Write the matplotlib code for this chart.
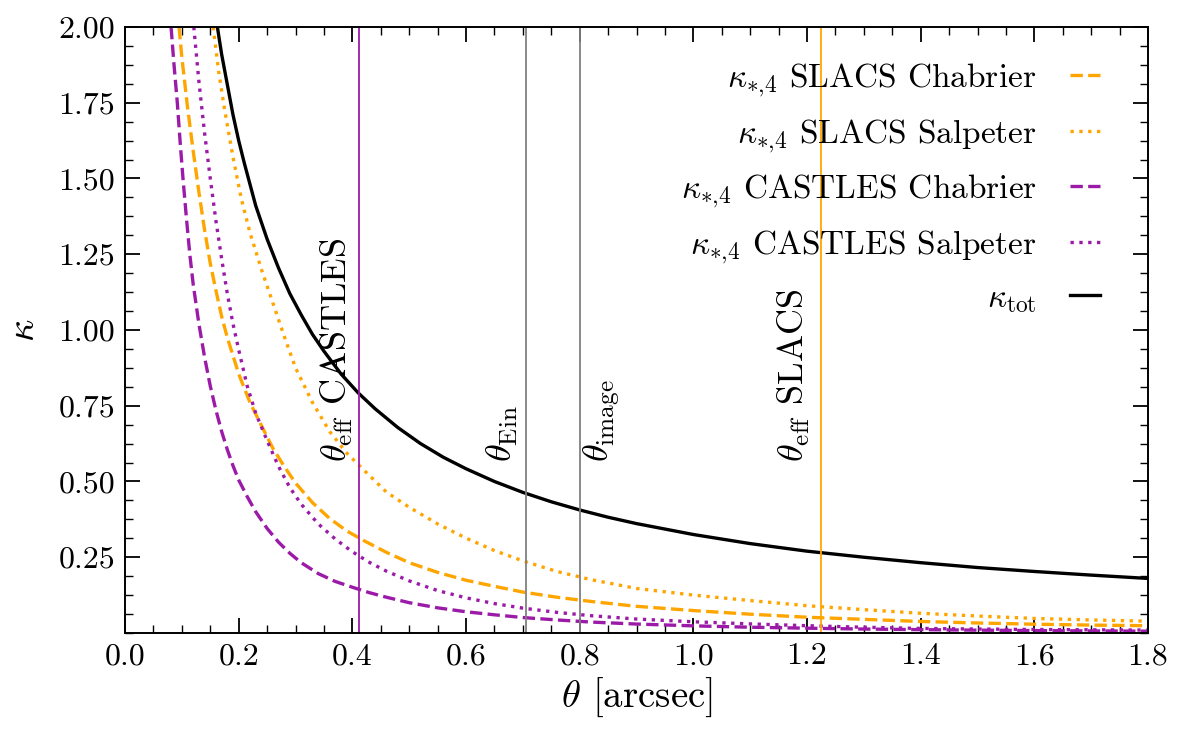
import matplotlib
matplotlib.use("Agg")
import matplotlib.pyplot as plt
from matplotlib.ticker import MultipleLocator, AutoMinorLocator, FormatStrFormatter

plt.rcParams['font.family'] = 'serif'
plt.rcParams['font.serif'] = ['cmr10']
plt.rcParams['mathtext.fontset'] = 'cm'
plt.rcParams['axes.formatter.use_mathtext'] = True

# --- values ---
# kappa_tot (black solid)
theta_tot = [0.16, 0.17, 0.18, 0.19, 0.20, 0.21, 0.22, 0.23, 0.24, 0.25, 0.27, 0.29, 0.31,
             0.33, 0.35, 0.38, 0.41, 0.44, 0.48, 0.52, 0.56, 0.60, 0.65, 0.70, 0.75, 0.80,
             0.85, 0.90, 1.0, 1.1, 1.2, 1.3, 1.4, 1.5, 1.6, 1.7, 1.8]
kappa_tot = [2.03, 1.91, 1.81, 1.71, 1.625, 1.55, 1.48, 1.41, 1.355, 1.30, 1.205, 1.12, 1.05,
             0.985, 0.93, 0.855, 0.793, 0.74, 0.678, 0.625, 0.58, 0.542, 0.50, 0.464, 0.433, 0.406,
             0.382, 0.361, 0.325, 0.295, 0.27, 0.25, 0.232, 0.216, 0.203, 0.191, 0.18]

# SLACS Salpeter (orange dotted)
theta_slacs_salp = [0.155, 0.165, 0.175, 0.19, 0.205, 0.22, 0.24, 0.26, 0.28, 0.30, 0.33,
                    0.36, 0.39, 0.42, 0.46, 0.50, 0.55, 0.60, 0.65, 0.70, 0.76, 0.82, 0.90,
                    1.0, 1.1, 1.2, 1.3, 1.4, 1.5, 1.6, 1.7, 1.8]
kappa_slacs_salp = [2.0, 1.85, 1.73, 1.57, 1.43, 1.32, 1.20, 1.09, 0.98, 0.875, 0.76,
                    0.665, 0.594, 0.538, 0.465, 0.415, 0.36, 0.313, 0.272, 0.238, 0.203, 0.176, 0.147,
                    0.125, 0.107, 0.090, 0.077, 0.065, 0.056, 0.048, 0.043, 0.039]

# SLACS Chabrier (orange dashed)
theta_slacs_chab = [0.095, 0.10, 0.11, 0.12, 0.13, 0.14, 0.15, 0.16, 0.17, 0.18, 0.19, 0.20,
                    0.22, 0.24, 0.26, 0.28, 0.30, 0.33, 0.36, 0.39, 0.42, 0.46, 0.50, 0.55,
                    0.60, 0.65, 0.70, 0.76, 0.82, 0.90, 1.0, 1.1, 1.2, 1.3, 1.4, 1.5, 1.6, 1.7, 1.8]
kappa_slacs_chab = [2.0, 1.9, 1.735, 1.59, 1.455, 1.33, 1.22, 1.13, 1.045, 0.975, 0.915, 0.855,
                    0.76, 0.685, 0.61, 0.55, 0.495, 0.43, 0.378, 0.337, 0.305, 0.266, 0.232, 0.20,
                    0.174, 0.154, 0.135, 0.118, 0.104, 0.088, 0.074, 0.062, 0.052, 0.045, 0.038,
                    0.033, 0.029, 0.026, 0.024]

# CASTLES Salpeter (purple dotted)
theta_cast_salp = [0.121, 0.13, 0.14, 0.15, 0.16, 0.17, 0.18, 0.19, 0.20, 0.215, 0.23, 0.25,
                   0.27, 0.29, 0.31, 0.34, 0.37, 0.40, 0.43, 0.46, 0.50, 0.55, 0.60, 0.65,
                   0.70, 0.76, 0.82, 0.90, 1.0, 1.1, 1.2, 1.3, 1.4, 1.5, 1.6, 1.7, 1.8]
kappa_cast_salp = [2.0, 1.82, 1.65, 1.5, 1.36, 1.235, 1.12, 1.02, 0.935, 0.815, 0.725, 0.635,
                   0.55, 0.48, 0.425, 0.36, 0.31, 0.268, 0.233, 0.204, 0.172, 0.14, 0.116, 0.097,
                   0.082, 0.068, 0.057, 0.046, 0.037, 0.030, 0.024, 0.019, 0.015, 0.013, 0.0115,
                   0.0105, 0.0095]

# CASTLES Chabrier (purple dashed)
theta_cast_chab = [0.081, 0.086, 0.092, 0.097, 0.102, 0.108, 0.114, 0.12, 0.13, 0.14, 0.15,
                   0.16, 0.17, 0.18, 0.19, 0.20, 0.215, 0.23, 0.25, 0.27, 0.29, 0.31, 0.34,
                   0.37, 0.40, 0.43, 0.46, 0.50, 0.55, 0.60, 0.65, 0.70, 0.76, 0.82, 0.90,
                   1.0, 1.1, 1.2, 1.3, 1.4, 1.5, 1.6, 1.7, 1.8]
kappa_cast_chab = [2.0, 1.88, 1.75, 1.62, 1.5, 1.37, 1.25, 1.15, 1.02, 0.91, 0.815,
                   0.735, 0.665, 0.605, 0.552, 0.505, 0.45, 0.40, 0.345, 0.30, 0.263, 0.232, 0.196,
                   0.17, 0.151, 0.133, 0.118, 0.100, 0.083, 0.070, 0.060, 0.051, 0.043, 0.036, 0.0295,
                   0.0235, 0.019, 0.0158, 0.013, 0.011, 0.0093, 0.008, 0.0068, 0.006]

# characteristic radii
theta_eff_castles = 0.412
theta_ein = 0.705
theta_image = 0.80
theta_eff_slacs = 1.224

orange = '#FFA500'
purple = '#9B1BA8'

fig = plt.figure(figsize=(11.85, 7.35), dpi=100)
ax = fig.add_axes([0.1055, 0.1388, 0.8633, 0.8245])

lw = 2.4
ax.plot(theta_slacs_chab, kappa_slacs_chab, color=orange, ls='--', lw=lw,
        label=r'$\kappa_{*{,}4}$ SLACS Chabrier')
ax.plot(theta_slacs_salp, kappa_slacs_salp, color=orange, ls=':', lw=lw,
        label=r'$\kappa_{*{,}4}$ SLACS Salpeter')
ax.plot(theta_cast_chab, kappa_cast_chab, color=purple, ls='--', lw=lw,
        label=r'$\kappa_{*{,}4}$ CASTLES Chabrier')
ax.plot(theta_cast_salp, kappa_cast_salp, color=purple, ls=':', lw=lw,
        label=r'$\kappa_{*{,}4}$ CASTLES Salpeter')
ax.plot(theta_tot, kappa_tot, color='black', ls='-', lw=lw,
        label=r'$\kappa_{\rm tot}$')

ax.axvline(theta_eff_castles, color=purple, lw=1.3)
ax.axvline(theta_ein, color='grey', lw=1.3)
ax.axvline(theta_image, color='grey', lw=1.3)
ax.axvline(theta_eff_slacs, color=orange, lw=1.3)

fs_txt = 26
ax.text(theta_eff_castles - 0.008, 0.565, r'$\theta_{\rm eff}$ CASTLES', rotation=90,
        ha='right', va='bottom', fontsize=fs_txt)
ax.text(theta_ein - 0.01, 0.565, r'$\theta_{\rm Ein}$', rotation=90,
        ha='right', va='bottom', fontsize=fs_txt)
ax.text(theta_image + 0.004, 0.565, r'$\theta_{\rm image}$', rotation=90,
        ha='left', va='bottom', fontsize=fs_txt)
ax.text(theta_eff_slacs - 0.015, 0.565, r'$\theta_{\rm eff}$ SLACS', rotation=90,
        ha='right', va='bottom', fontsize=fs_txt)

ax.set_xlim(0, 1.8)
ax.set_ylim(0, 2.0)
ax.set_yticks([0.25, 0.5, 0.75, 1.0, 1.25, 1.5, 1.75, 2.0])
ax.yaxis.set_major_formatter(FormatStrFormatter('%.2f'))
ax.xaxis.set_major_locator(MultipleLocator(0.2))
ax.xaxis.set_major_formatter(FormatStrFormatter('%.1f'))
ax.xaxis.set_minor_locator(AutoMinorLocator(4))
ax.yaxis.set_minor_locator(MultipleLocator(0.0625))
ax.tick_params(which='both', direction='in', top=True, right=True, labelsize=23, pad=7)
ax.tick_params(which='major', length=11, width=1.3)
ax.tick_params(which='minor', length=5.5, width=1.0)
for s in ax.spines.values():
    s.set_linewidth(1.4)

ax.set_xlabel(r'$\theta$ [arcsec]', fontsize=28, labelpad=4)
ax.set_ylabel(r'$\kappa$', fontsize=28, labelpad=12)

ax.legend(loc='upper right', bbox_to_anchor=(0.966, 0.965), frameon=False,
          markerfirst=False, fontsize=24, handlelength=0.9, handletextpad=1.0,
          labelspacing=0.54, borderaxespad=0.0)

fig.savefig('out.png', dpi=100)
